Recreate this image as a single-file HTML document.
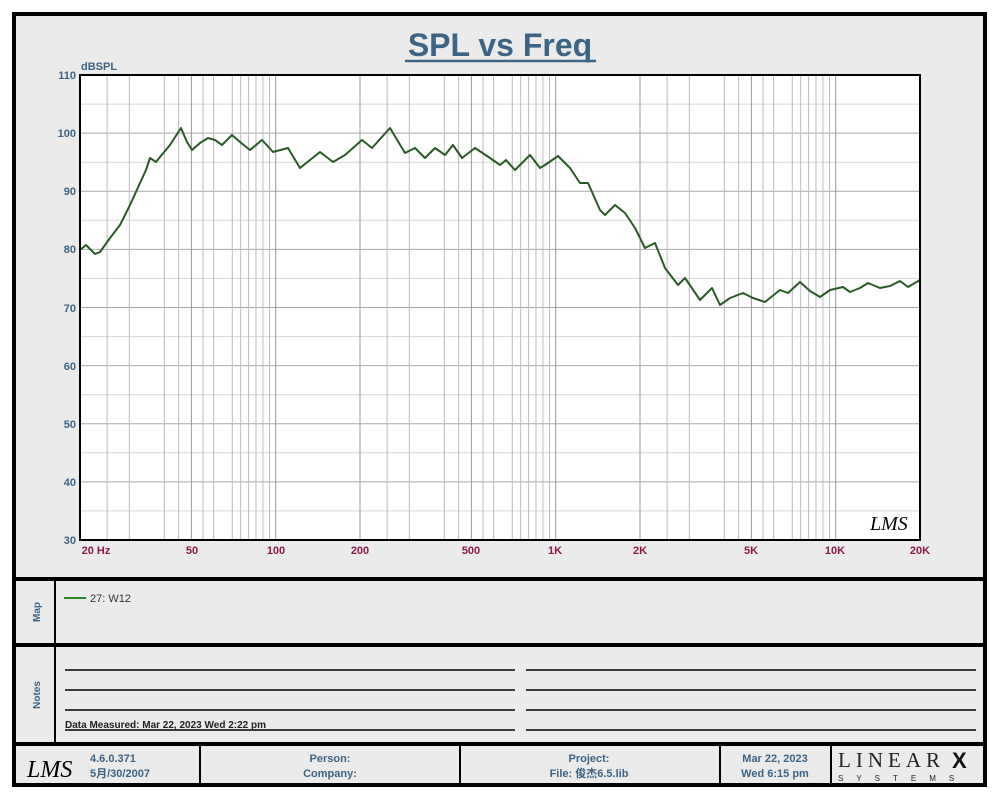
<!DOCTYPE html>
<html><head><meta charset="utf-8"><style>
body{margin:0;background:#fff;}
svg{display:block;font-family:"Liberation Sans","Noto Sans CJK SC",sans-serif;}
</style></head><body>
<svg width="1000" height="800" viewBox="0 0 1000 800">
<rect x="14" y="14" width="971" height="771" fill="#ebebeb" stroke="#000" stroke-width="4"/>
<text x="500" y="56" text-anchor="middle" font-size="32" font-weight="bold" fill="#3d6484">SPL vs Freq</text>
<line x1="405" y1="61" x2="596" y2="61" stroke="#3d6484" stroke-width="2.5"/>
<text x="81" y="70" font-size="11" font-weight="bold" fill="#3d6484">dBSPL</text>
<rect x="80" y="75" width="840" height="465" fill="#fff"/>
<g stroke="#d6d6d6" stroke-width="1">
<line x1="80" y1="510.9" x2="920" y2="510.9"/><line x1="80" y1="452.8" x2="920" y2="452.8"/><line x1="80" y1="394.7" x2="920" y2="394.7"/><line x1="80" y1="336.6" x2="920" y2="336.6"/><line x1="80" y1="278.4" x2="920" y2="278.4"/><line x1="80" y1="220.3" x2="920" y2="220.3"/><line x1="80" y1="162.2" x2="920" y2="162.2"/><line x1="80" y1="104.1" x2="920" y2="104.1"/>
</g>
<g stroke="#a8a8a8" stroke-width="1">
<line x1="80" y1="481.9" x2="920" y2="481.9"/><line x1="80" y1="423.75" x2="920" y2="423.75"/><line x1="80" y1="365.6" x2="920" y2="365.6"/><line x1="80" y1="307.5" x2="920" y2="307.5"/><line x1="80" y1="249.4" x2="920" y2="249.4"/><line x1="80" y1="191.25" x2="920" y2="191.25"/><line x1="80" y1="133.1" x2="920" y2="133.1"/>
</g>
<g stroke="#bbb" stroke-width="1">
<line x1="107.1" y1="75" x2="107.1" y2="540"/><line x1="129.3" y1="75" x2="129.3" y2="540"/><line x1="164.3" y1="75" x2="164.3" y2="540"/><line x1="178.6" y1="75" x2="178.6" y2="540"/><line x1="203" y1="75" x2="203" y2="540"/><line x1="213.6" y1="75" x2="213.6" y2="540"/><line x1="232.3" y1="75" x2="232.3" y2="540"/><line x1="240.7" y1="75" x2="240.7" y2="540"/><line x1="248.6" y1="75" x2="248.6" y2="540"/><line x1="256" y1="75" x2="256" y2="540"/><line x1="262.9" y1="75" x2="262.9" y2="540"/><line x1="269.5" y1="75" x2="269.5" y2="540"/>
<line x1="387.1" y1="75" x2="387.1" y2="540"/><line x1="409.3" y1="75" x2="409.3" y2="540"/><line x1="444.3" y1="75" x2="444.3" y2="540"/><line x1="458.6" y1="75" x2="458.6" y2="540"/><line x1="483" y1="75" x2="483" y2="540"/><line x1="493.6" y1="75" x2="493.6" y2="540"/><line x1="512.3" y1="75" x2="512.3" y2="540"/><line x1="520.7" y1="75" x2="520.7" y2="540"/><line x1="528.6" y1="75" x2="528.6" y2="540"/><line x1="536" y1="75" x2="536" y2="540"/><line x1="542.9" y1="75" x2="542.9" y2="540"/><line x1="549.5" y1="75" x2="549.5" y2="540"/>
<line x1="667.1" y1="75" x2="667.1" y2="540"/><line x1="689.3" y1="75" x2="689.3" y2="540"/><line x1="724.3" y1="75" x2="724.3" y2="540"/><line x1="738.6" y1="75" x2="738.6" y2="540"/><line x1="763" y1="75" x2="763" y2="540"/><line x1="773.6" y1="75" x2="773.6" y2="540"/><line x1="792.3" y1="75" x2="792.3" y2="540"/><line x1="800.7" y1="75" x2="800.7" y2="540"/><line x1="808.6" y1="75" x2="808.6" y2="540"/><line x1="816" y1="75" x2="816" y2="540"/><line x1="822.9" y1="75" x2="822.9" y2="540"/><line x1="829.5" y1="75" x2="829.5" y2="540"/>
</g>
<g stroke="#999" stroke-width="1">
<line x1="191.4" y1="75" x2="191.4" y2="540"/><line x1="275.7" y1="75" x2="275.7" y2="540"/><line x1="360" y1="75" x2="360" y2="540"/><line x1="471.4" y1="75" x2="471.4" y2="540"/><line x1="555.7" y1="75" x2="555.7" y2="540"/><line x1="640" y1="75" x2="640" y2="540"/><line x1="751.4" y1="75" x2="751.4" y2="540"/><line x1="835.7" y1="75" x2="835.7" y2="540"/>
</g>
<g font-size="11" font-weight="bold" fill="#3d6484" text-anchor="end">
<text x="76" y="544">30</text><text x="76" y="486">40</text><text x="76" y="428">50</text><text x="76" y="370">60</text><text x="76" y="312">70</text><text x="76" y="253">80</text><text x="76" y="195">90</text><text x="76" y="137">100</text><text x="76" y="79">110</text>
</g>
<g font-size="11" font-weight="bold" fill="#8b1a4b" text-anchor="middle">
<text x="96" y="554">20  Hz</text><text x="192" y="554">50</text><text x="276" y="554">100</text><text x="360" y="554">200</text><text x="471" y="554">500</text><text x="555" y="554">1K</text><text x="640" y="554">2K</text><text x="751" y="554">5K</text><text x="835" y="554">10K</text><text x="920" y="554">20K</text>
</g>
<polyline fill="none" stroke="#2a5a26" stroke-width="2" stroke-linejoin="round" points="80,250 86,245 95,254 100,252 110,238 120,225 130,205 140,183 146,170 150,158 156,162 160,157 170,145 181,128 187,142 192,150 200,143 208,138 215,140 222,145 232,135 240,142 250,150 262,140 273,152 288,148 300,168 320,152 333,162 345,155 362,140 372,148 390,128 405,153 415,148 425,158 435,148 445,155 453,145 462,158 475,148 490,158 500,165 506,160 515,170 530,155 540,168 545,165 558,156 570,168 580,183 588,183 600,210 605,215 615,205 625,213 635,228 645,248 655,243 665,268 678,285 685,278 700,300 712,288 720,305 730,298 743,293 753,298 765,302 780,290 788,293 800,282 810,291 820,297 830,290 843,287 850,292 860,288 868,283 880,288 890,286 900,281 908,287 920,280"/>
<rect x="80" y="75" width="840" height="465" fill="none" stroke="#000" stroke-width="2"/>
<text x="870" y="530" font-size="20" font-style="italic" fill="#000" font-family="Liberation Serif,serif">LMS</text>
<line x1="14" y1="579" x2="985" y2="579" stroke="#000" stroke-width="4"/>
<line x1="14" y1="645" x2="985" y2="645" stroke="#000" stroke-width="4"/>
<line x1="14" y1="744" x2="985" y2="744" stroke="#000" stroke-width="4"/>
<line x1="55" y1="580" x2="55" y2="744" stroke="#000" stroke-width="2"/>
<text transform="translate(40,612) rotate(-90)" text-anchor="middle" font-size="10" font-weight="bold" fill="#3d6484">Map</text>
<text transform="translate(40,695) rotate(-90)" text-anchor="middle" font-size="10" font-weight="bold" fill="#3d6484">Notes</text>
<line x1="64" y1="598" x2="86" y2="598" stroke="#2a8a26" stroke-width="2"/>
<text x="90" y="602" font-size="11" fill="#333">27: W12</text>
<g stroke="#000" stroke-width="1.5">
<line x1="65" y1="670" x2="515" y2="670"/><line x1="65" y1="690" x2="515" y2="690"/><line x1="65" y1="710" x2="515" y2="710"/><line x1="65" y1="730" x2="515" y2="730"/>
<line x1="526" y1="670" x2="976" y2="670"/><line x1="526" y1="690" x2="976" y2="690"/><line x1="526" y1="710" x2="976" y2="710"/><line x1="526" y1="730" x2="976" y2="730"/>
</g>
<text x="65" y="728" font-size="10" font-weight="bold" fill="#222">Data Measured: Mar 22, 2023  Wed  2:22 pm</text>
<g stroke="#000" stroke-width="2">
<line x1="200" y1="745" x2="200" y2="785"/><line x1="460" y1="745" x2="460" y2="785"/><line x1="720" y1="745" x2="720" y2="785"/><line x1="831" y1="745" x2="831" y2="785"/>
</g>
<text x="27" y="777" font-size="24" font-style="italic" fill="#000" font-family="Liberation Serif,serif">LMS</text>
<g font-size="11" font-weight="bold" fill="#3d6484">
<text x="90" y="762">4.6.0.371</text><text x="90" y="777">5月/30/2007</text>
<text x="330" y="762" text-anchor="middle">Person:</text><text x="330" y="777" text-anchor="middle">Company:</text>
<text x="589" y="762" text-anchor="middle">Project:</text><text x="589" y="777" text-anchor="middle">File: 俊杰6.5.lib</text>
<text x="775" y="762" text-anchor="middle">Mar 22, 2023</text><text x="775" y="777" text-anchor="middle">Wed  6:15 pm</text>
</g>
<text x="838" y="767" font-size="21" fill="#222" font-family="Liberation Serif,serif" letter-spacing="5">LINEAR</text>
<text x="952" y="768" font-size="22" font-weight="bold" fill="#111">X</text>
<text x="838" y="781" font-size="8" fill="#222" letter-spacing="13">SYSTEMS</text>
</svg>
</body></html>
